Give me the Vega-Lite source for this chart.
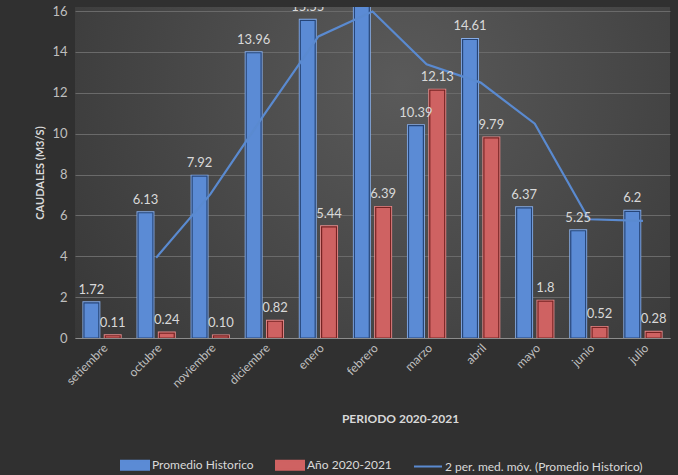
{
  "$schema": "https://vega.github.io/schema/vega-lite/v6.json",
  "width": 595,
  "height": 331,
  "autosize": {"type": "none"},
  "padding": {"left": 75, "top": 7, "right": 8, "bottom": 137},
  "background": "#303030",
  "config": {
    "font": "Lato, sans-serif",
    "view": {
      "stroke": null,
      "fill": {
        "gradient": "radial",
        "x1": 0.55, "y1": 0.35, "r1": 0,
        "x2": 0.55, "y2": 0.35, "r2": 0.8,
        "stops": [
          {"offset": 0, "color": "#5a5a5a"},
          {"offset": 1, "color": "#323232"}
        ]
      }
    }
  },
  "data": {
    "values": [
      {"mes": "setiembre", "serie": "Promedio Historico", "valor": 1.72, "etiqueta": "1.72"},
      {"mes": "octubre", "serie": "Promedio Historico", "valor": 6.13, "etiqueta": "6.13"},
      {"mes": "noviembre", "serie": "Promedio Historico", "valor": 7.92, "etiqueta": "7.92"},
      {"mes": "diciembre", "serie": "Promedio Historico", "valor": 13.96, "etiqueta": "13.96"},
      {"mes": "enero", "serie": "Promedio Historico", "valor": 15.55, "etiqueta": "15.55"},
      {"mes": "febrero", "serie": "Promedio Historico", "valor": 16.4, "etiqueta": "16.40"},
      {"mes": "marzo", "serie": "Promedio Historico", "valor": 10.39, "etiqueta": "10.39"},
      {"mes": "abril", "serie": "Promedio Historico", "valor": 14.61, "etiqueta": "14.61"},
      {"mes": "mayo", "serie": "Promedio Historico", "valor": 6.37, "etiqueta": "6.37"},
      {"mes": "junio", "serie": "Promedio Historico", "valor": 5.25, "etiqueta": "5.25"},
      {"mes": "julio", "serie": "Promedio Historico", "valor": 6.2, "etiqueta": "6.2"},
      {"mes": "setiembre", "serie": "Año 2020-2021", "valor": 0.11, "etiqueta": "0.11"},
      {"mes": "octubre", "serie": "Año 2020-2021", "valor": 0.24, "etiqueta": "0.24"},
      {"mes": "noviembre", "serie": "Año 2020-2021", "valor": 0.10, "etiqueta": "0.10"},
      {"mes": "diciembre", "serie": "Año 2020-2021", "valor": 0.82, "etiqueta": "0.82"},
      {"mes": "enero", "serie": "Año 2020-2021", "valor": 5.44, "etiqueta": "5.44"},
      {"mes": "febrero", "serie": "Año 2020-2021", "valor": 6.39, "etiqueta": "6.39"},
      {"mes": "marzo", "serie": "Año 2020-2021", "valor": 12.13, "etiqueta": "12.13"},
      {"mes": "abril", "serie": "Año 2020-2021", "valor": 9.79, "etiqueta": "9.79"},
      {"mes": "mayo", "serie": "Año 2020-2021", "valor": 1.8, "etiqueta": "1.8"},
      {"mes": "junio", "serie": "Año 2020-2021", "valor": 0.52, "etiqueta": "0.52"},
      {"mes": "julio", "serie": "Año 2020-2021", "valor": 0.28, "etiqueta": "0.28"},
      {"mes": "octubre", "serie": "2 per. med. móv. (Promedio Historico)", "valor": 3.93},
      {"mes": "noviembre", "serie": "2 per. med. móv. (Promedio Historico)", "valor": 7.03},
      {"mes": "diciembre", "serie": "2 per. med. móv. (Promedio Historico)", "valor": 10.94},
      {"mes": "enero", "serie": "2 per. med. móv. (Promedio Historico)", "valor": 14.76},
      {"mes": "febrero", "serie": "2 per. med. móv. (Promedio Historico)", "valor": 15.98},
      {"mes": "marzo", "serie": "2 per. med. móv. (Promedio Historico)", "valor": 13.4},
      {"mes": "abril", "serie": "2 per. med. móv. (Promedio Historico)", "valor": 12.5},
      {"mes": "mayo", "serie": "2 per. med. móv. (Promedio Historico)", "valor": 10.49},
      {"mes": "junio", "serie": "2 per. med. móv. (Promedio Historico)", "valor": 5.81},
      {"mes": "julio", "serie": "2 per. med. móv. (Promedio Historico)", "valor": 5.73}
    ]
  },
  "encoding": {
    "x": {
      "field": "mes",
      "type": "nominal",
      "sort": ["setiembre", "octubre", "noviembre", "diciembre", "enero", "febrero", "marzo", "abril", "mayo", "junio", "julio"],
      "scale": {"paddingInner": 0.33, "paddingOuter": 0.165},
      "axis": {
        "title": "PERIODO 2020-2021",
        "titleFontWeight": "bold",
        "titleFontSize": 12,
        "titleColor": "#d9d9d9",
        "titleX": 325,
        "titleY": 75,
        "labelAngle": -45,
        "labelFontSize": 12,
        "labelColor": "#bfbfbf",
        "labelPadding": 4,
        "ticks": false,
        "domainColor": "#8c8c8c",
        "domainWidth": 1.2,
        "grid": false
      }
    },
    "y": {
      "field": "valor",
      "type": "quantitative",
      "scale": {"domain": [0, 16.2], "nice": false},
      "axis": {
        "title": "CAUDALES (M3/S)",
        "titleFontWeight": "bold",
        "titleFontSize": 11,
        "titleColor": "#d9d9d9",
        "titlePadding": 6,
        "values": [0, 2, 4, 6, 8, 10, 12, 14, 16],
        "labelFontSize": 13,
        "labelColor": "#bfbfbf",
        "labelPadding": 8,
        "ticks": false,
        "domain": false,
        "gridColor": "#6a6a6a",
        "gridWidth": 1
      }
    }
  },
  "layer": [
    {
      "transform": [{"filter": "datum.serie !== '2 per. med. móv. (Promedio Historico)'"}],
      "mark": {"type": "bar", "strokeWidth": 3, "clip": true},
      "encoding": {
        "xOffset": {"field": "serie", "type": "nominal", "scale": {"domain": ["Promedio Historico", "Año 2020-2021"], "paddingInner": 0.3}},
        "color": {
          "field": "serie",
          "type": "nominal",
          "scale": {
            "domain": ["Promedio Historico", "Año 2020-2021", "2 per. med. móv. (Promedio Historico)"],
            "range": ["#5b8bd5", "#cf6262", "#5a8ad0"]
          },
          "legend": {
            "title": null,
            "orient": "none",
            "legendX": 45,
            "legendY": 443,
            "direction": "horizontal",
            "labelColor": "#d9d9d9",
            "labelFontSize": 12,
            "labelLimit": 400,
            "symbolSize": 784,
            "columnPadding": 18,
            "labelOffset": 2,
            "encode": {
              "symbols": {
                "update": {
                  "shape": {"signal": "datum.value === '2 per. med. móv. (Promedio Historico)' ? 'stroke' : 'M-1,-0.32H1V0.32H-1Z'"},
                  "fill": {"signal": "datum.value === '2 per. med. móv. (Promedio Historico)' ? 'transparent' : scale('color', datum.value)"},
                  "stroke": {"signal": "datum.value === '2 per. med. móv. (Promedio Historico)' ? '#5a8ad0' : (datum.value === 'Promedio Historico' ? '#2a4a80' : '#7a2424')"},
                  "strokeWidth": {"value": 2},
                  "opacity": {"value": 1},
                  "fillOpacity": {"value": 1}
                }
              }
            }
          }
        },
        "stroke": {
          "field": "serie",
          "type": "nominal",
          "scale": {"domain": ["Promedio Historico", "Año 2020-2021"], "range": ["#86ace6", "#e68c8c"]},
          "legend": null
        }
      }
    },
    {
      "transform": [{"filter": "datum.serie !== '2 per. med. móv. (Promedio Historico)'"}],
      "mark": {"type": "bar", "strokeWidth": 1.2, "clip": true},
      "encoding": {
        "xOffset": {"field": "serie", "type": "nominal"},
        "color": {"field": "serie", "type": "nominal"},
        "stroke": {
          "field": "serie",
          "type": "nominal",
          "scale": {"domain": ["Promedio Historico", "Año 2020-2021"], "range": ["#264578", "#762222"]},
          "legend": null
        }
      }
    },
    {
      "transform": [{"filter": "datum.serie === '2 per. med. móv. (Promedio Historico)'"}],
      "mark": {"type": "line", "strokeWidth": 2.2, "clip": true},
      "encoding": {
        "color": {"field": "serie", "type": "nominal"}
      }
    },
    {
      "transform": [{"filter": "datum.serie !== '2 per. med. móv. (Promedio Historico)'"}],
      "mark": {"type": "text", "dy": -9, "baseline": "alphabetic", "fontSize": 13, "color": "#d9d9d9", "clip": true},
      "encoding": {
        "xOffset": {"field": "serie", "type": "nominal"},
        "text": {"field": "etiqueta", "type": "nominal"}
      }
    }
  ],
  "resolve": {"scale": {"stroke": "independent"}}
}
